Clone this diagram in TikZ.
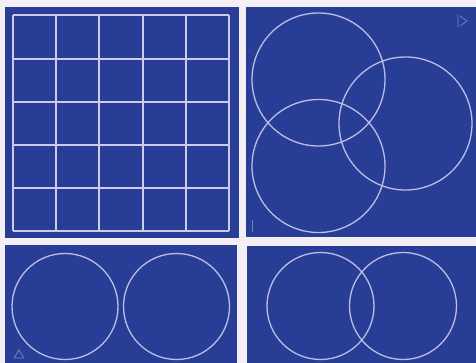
\documentclass[tikz,border=0pt]{standalone}
\usepackage{tikz}

\definecolor{paper}{RGB}{243,239,245}
\definecolor{boardblue}{RGB}{40,62,150}
\definecolor{chalk}{RGB}{205,202,238}

\begin{document}
\begin{tikzpicture}[
    x=1pt, y=-1pt,
    panel/.style={fill=boardblue, draw=none},
    gridline/.style={draw=chalk, line width=1.8pt},
    ring/.style={draw=chalk!90!boardblue, line width=1.3pt},
    mark_s/.style={draw=chalk!45!boardblue, line width=0.8pt},
]
% sheet and margins
\fill[paper] (0,0) rectangle (476,363);
\useasboundingbox (0,0) rectangle (476,363);

% four boards
\fill[panel] (5,7) rectangle (239,238);
\fill[panel] (246,7) rectangle (476,237);
\fill[panel] (5,245) rectangle (237,363);
\fill[panel] (247,246) rectangle (476,363);

% board 1: five by five grid
\foreach \gx in {13,56,99,143,186,229}
  \draw[gridline] (\gx,15) -- (\gx,231);
\foreach \gy in {15,59,102,145,188,231}
  \draw[gridline] (13,\gy) -- (229,\gy);

% board 2: three circles
\draw[ring] (318.5,79.5) circle[radius=66.5];
\draw[ring] (318.5,166) circle[radius=66.5];
\draw[ring] (405.5,123.5) circle[radius=66.5];
\draw[mark_s] (458,15) -- (458,27) (460,16) -- (467,21) -- (460,26);
\draw[mark_s] (252,220) -- (252,232);

% board 3: two apart
\draw[ring] (65,306.5) circle[radius=53];
\draw[ring] (176.5,306.5) circle[radius=53];
\draw[mark_s] (14,358) -- (19,350) -- (24,358) -- cycle;

% board 4: two overlapping
\draw[ring] (320.5,306) circle[radius=53.5];
\draw[ring] (403,306) circle[radius=53.5];
\end{tikzpicture}
\end{document}
